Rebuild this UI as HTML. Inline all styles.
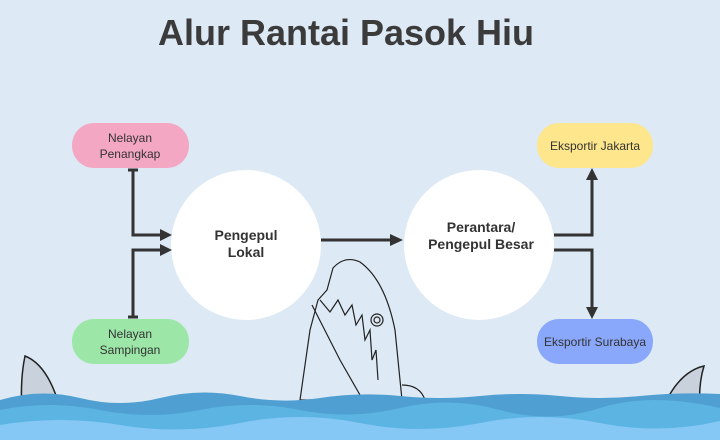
<!DOCTYPE html>
<html><head><style>
body{margin:0;width:720px;height:440px;overflow:hidden;background:#dde9f4;font-family:"Liberation Sans",sans-serif}
svg{display:block}
</style></head><body>
<svg width="720" height="440" viewBox="0 0 720 440">
<rect width="720" height="440" fill="#dde9f4"/>
<text x="346" y="45" text-anchor="middle" font-size="36" font-weight="bold" fill="#3b3b3b" font-family="Liberation Sans, sans-serif">Alur Rantai Pasok Hiu</text>
<circle cx="246" cy="245" r="75" fill="#fff"/>
<circle cx="479" cy="245" r="75" fill="#fff"/>
<rect x="72" y="123" width="117" height="45" rx="22" fill="#f4a7c3"/>
<rect x="72" y="319" width="117" height="45" rx="22" fill="#9ce6a8"/>
<rect x="537" y="123" width="116" height="45" rx="22" fill="#fde68c"/>
<rect x="537" y="319" width="116" height="45" rx="22" fill="#8aa8fb"/>
<g font-size="12" fill="#333" text-anchor="middle">
<text x="130" y="142">Nelayan</text><text x="130" y="158">Penangkap</text>
<text x="130" y="338">Nelayan</text><text x="130" y="354">Sampingan</text>
<text x="595" y="150">Eksportir Jakarta</text>
<text x="595" y="346">Eksportir Surabaya</text>
</g>
<g font-size="14" font-weight="bold" fill="#333" text-anchor="middle">
<text x="246" y="240">Pengepul</text><text x="246" y="257">Lokal</text>
<text x="481" y="232">Perantara/</text><text x="481" y="249">Pengepul Besar</text>
</g>
<g stroke="#333" stroke-width="3" fill="none">
<path d="M133 170 V235 H160"/><path d="M128 170 H138"/>
<path d="M133 317 V250 H160"/><path d="M128 317 H138"/>
<path d="M321 240 H392"/>
<path d="M554 235 H592 V180"/>
<path d="M554 250 H592 V307"/>
</g>
<g fill="#333">
<path d="M160 229 L172 235 L160 241Z"/><path d="M160 244 L172 250 L160 256Z"/>
<path d="M390 234 L403 240 L390 246Z"/>
<path d="M586 180 L592 168 L598 180Z"/><path d="M586 307 L592 319 L598 307Z"/>
</g>
<g stroke="#222" stroke-width="1.2" fill="#dde9f4">
<path d="M300 400 L310 330 L318 300 L327 290 L333 268 Q345 255 360 262 Q385 280 395 330 L402 400Z"/>
<path d="M402 385 Q420 385 425 400" fill="none"/>
<path d="M312 305 L340 360 L360 395" fill="none"/>
<path d="M320 300 L330 312 L338 300 L345 315 L352 305 L356 325 L362 315 L365 340 L370 330 L372 360 L376 350 L378 380" fill="none"/>
<circle cx="377" cy="320" r="6"/><circle cx="377" cy="320" r="3"/>
</g>
<path d="M22 410 Q20 380 25 356 Q48 365 60 408Z" fill="#c9d2dc" stroke="#222" stroke-width="1.5"/>
<path d="M700 412 Q698 385 704 366 Q678 372 662 410Z" fill="#c9d2dc" stroke="#222" stroke-width="1.5"/>
<path d="M0 400 Q40 388 80 398 T160 398 T240 396 T320 398 T400 396 T480 396 T560 396 T640 396 T720 394 V440 H0Z" fill="#4f9fd2"/>
<path d="M0 410 Q50 400 100 410 T200 410 T300 410 T400 408 T500 410 T600 408 T720 408 V440 H0Z" fill="#5cb4e2"/>
<path d="M0 425 Q60 415 120 425 T240 423 T360 423 T480 423 T600 423 T720 421 V440 H0Z" fill="#85c8f6"/>
</svg>
</body></html>
